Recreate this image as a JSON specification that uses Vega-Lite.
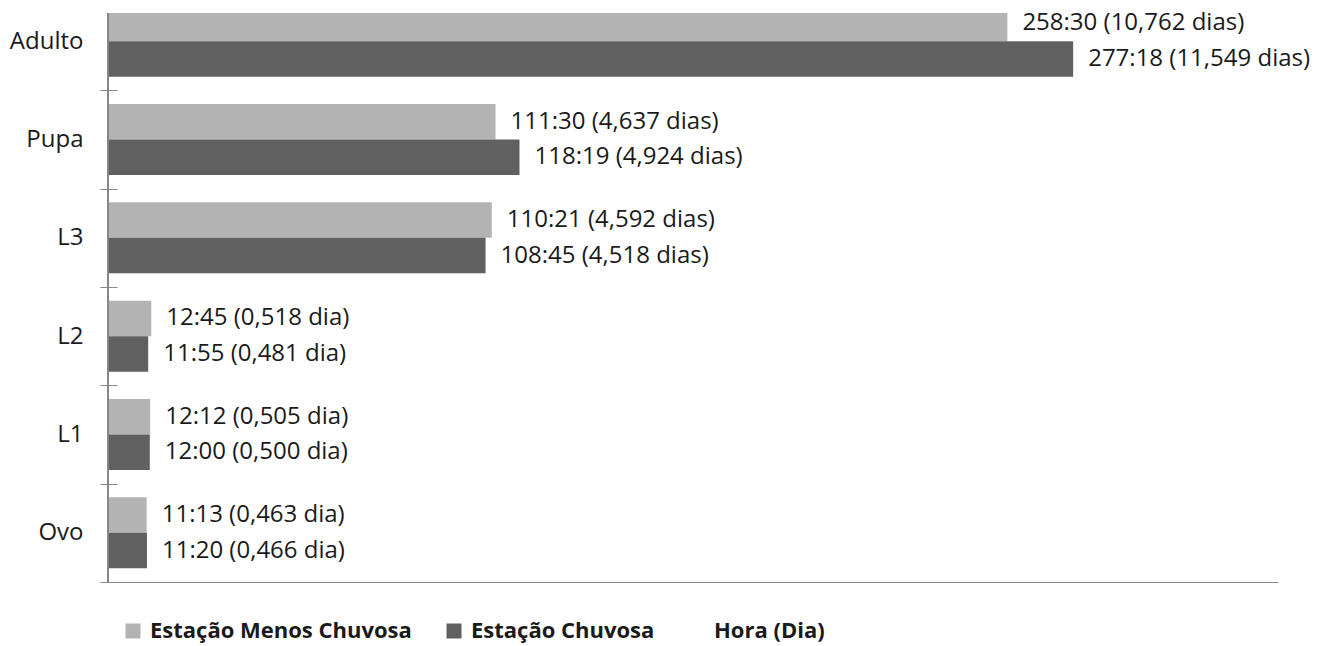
{
  "$schema": "https://vega.github.io/schema/vega-lite/v6.json",
  "width": 1170,
  "height": 569,
  "autosize": {"type": "none"},
  "padding": {"left": 108, "top": 13, "right": 47, "bottom": 64},
  "background": "white",
  "config": {"view": {"stroke": null}, "font": "Open Sans"},
  "data": {
    "values": [
      {"estagio": "Adulto", "estacao": "Estação Menos Chuvosa", "dias": 10.762, "label": "258:30 (10,762 dias)"},
      {"estagio": "Adulto", "estacao": "Estação Chuvosa", "dias": 11.549, "label": "277:18 (11,549 dias)"},
      {"estagio": "Pupa", "estacao": "Estação Menos Chuvosa", "dias": 4.637, "label": "111:30 (4,637 dias)"},
      {"estagio": "Pupa", "estacao": "Estação Chuvosa", "dias": 4.924, "label": "118:19 (4,924 dias)"},
      {"estagio": "L3", "estacao": "Estação Menos Chuvosa", "dias": 4.592, "label": "110:21 (4,592 dias)"},
      {"estagio": "L3", "estacao": "Estação Chuvosa", "dias": 4.518, "label": "108:45 (4,518 dias)"},
      {"estagio": "L2", "estacao": "Estação Menos Chuvosa", "dias": 0.518, "label": "12:45 (0,518 dia)"},
      {"estagio": "L2", "estacao": "Estação Chuvosa", "dias": 0.481, "label": "11:55 (0,481 dia)"},
      {"estagio": "L1", "estacao": "Estação Menos Chuvosa", "dias": 0.505, "label": "12:12 (0,505 dia)"},
      {"estagio": "L1", "estacao": "Estação Chuvosa", "dias": 0.500, "label": "12:00 (0,500 dia)"},
      {"estagio": "Ovo", "estacao": "Estação Menos Chuvosa", "dias": 0.463, "label": "11:13 (0,463 dia)"},
      {"estagio": "Ovo", "estacao": "Estação Chuvosa", "dias": 0.466, "label": "11:20 (0,466 dia)"}
    ]
  },
  "encoding": {
    "y": {
      "field": "estagio", "type": "nominal",
      "sort": ["Adulto", "Pupa", "L3", "L2", "L1", "Ovo"],
      "scale": {"paddingInner": 0, "paddingOuter": 0, "range": [-21, 569]},
      "axis": {
        "title": null, "domain": false, "tickBand": "extent", "tickSize": 17, "offset": -9,
        "tickColor": "#868686", "labelPadding": 17, "labelFontSize": 24,
        "labelColor": "#1a1a1a", "labelFont": "Open Sans"
      }
    },
    "yOffset": {
      "field": "estacao",
      "sort": ["Estação Menos Chuvosa", "Estação Chuvosa"],
      "scale": {"paddingInner": 0, "paddingOuter": 0.386}
    },
    "x": {
      "field": "dias", "type": "quantitative",
      "scale": {"domain": [0, 14], "nice": false},
      "axis": {"domain": true, "domainColor": "#868686", "ticks": false, "labels": false, "grid": false, "title": null}
    }
  },
  "layer": [
    {
      "mark": {"type": "bar", "clip": true},
      "encoding": {
        "color": {
          "field": "estacao", "type": "nominal",
          "scale": {"domain": ["Estação Menos Chuvosa", "Estação Chuvosa", "Hora (Dia)"], "range": ["#b3b3b3", "#606060", "#ffffff"]},
          "legend": {
            "orient": "none", "legendX": 14, "legendY": 607, "direction": "horizontal", "title": null,
            "symbolType": "square", "symbolSize": 225, "symbolStrokeWidth": 0,
            "labelFontSize": 22, "labelFontWeight": "bold", "labelFont": "Open Sans",
            "labelColor": "#1a1a1a", "columnPadding": 31, "labelOffset": 6, "labelLimit": 400
          }
        }
      }
    },
    {
      "mark": {"type": "rule", "color": "#868686", "strokeWidth": 1},
      "encoding": {"x": {"datum": 0, "type": "quantitative"}, "y": null, "yOffset": null}
    },
    {
      "mark": {"type": "text", "align": "left", "baseline": "middle", "dx": 15, "fontSize": 24, "color": "#1a1a1a", "font": "Open Sans"},
      "encoding": {"text": {"field": "label"}}
    }
  ]
}
